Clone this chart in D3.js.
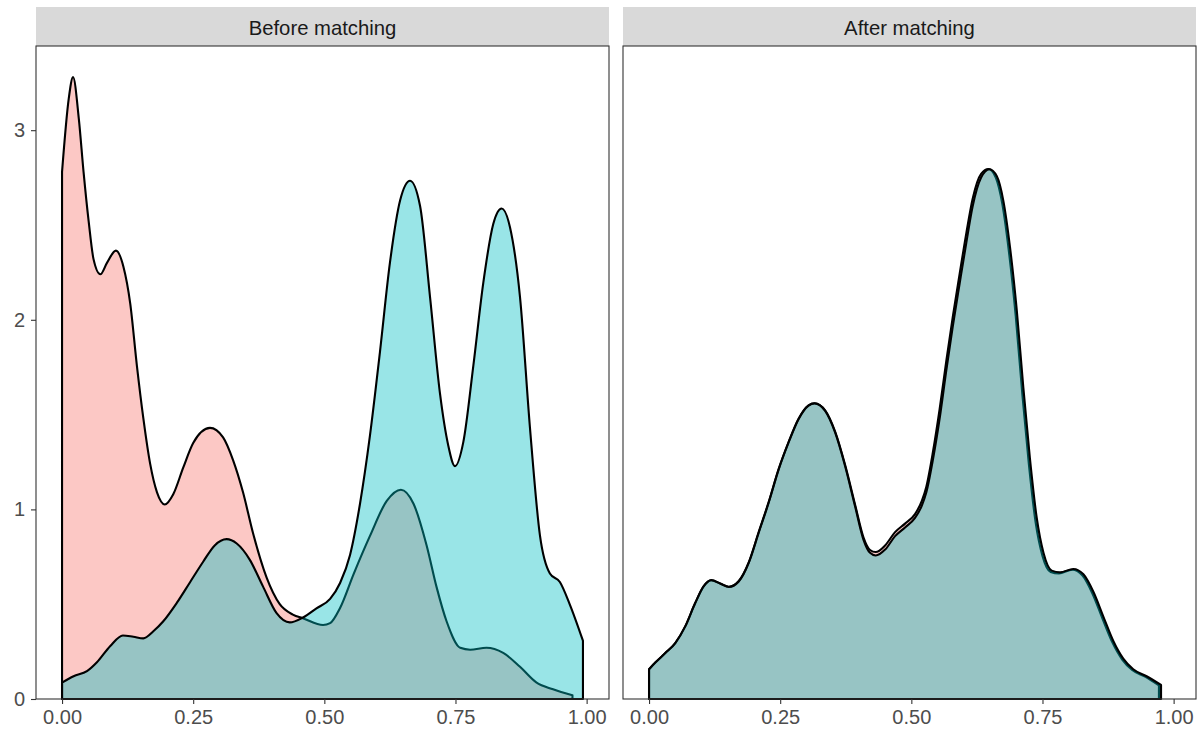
<!DOCTYPE html>
<html>
<head>
<meta charset="utf-8">
<script src="https://cdn.jsdelivr.net/npm/d3@7"></script>
<style>
  html, body { margin: 0; padding: 0; background: #ffffff; }
  svg { display: block; }
  text { font-family: "Liberation Sans", Arial, sans-serif; }
</style>
</head>
<body>
<svg id="chart" width="1198" height="733"></svg>
<script>
// Propensity-score density estimates, [score, density] pairs
const panels = ["Before matching", "After matching"];
const groups = ["control", "treated"];
const groupColors = ["#F8766D", "#00BFC4"];

const beforeControl = [
  [0, 2.78], [0.0127, 3.165], [0.021, 3.28], [0.032, 3.06], [0.041, 2.78], [0.0507, 2.52],
  [0.060, 2.32], [0.073, 2.24], [0.0856, 2.30], [0.1027, 2.365], [0.117, 2.28], [0.130, 2.085],
  [0.1426, 1.76], [0.155, 1.48], [0.168, 1.24], [0.181, 1.09], [0.196, 1.026], [0.212, 1.08],
  [0.231, 1.22], [0.250, 1.35], [0.282, 1.43], [0.307, 1.38], [0.326, 1.26], [0.345, 1.09],
  [0.364, 0.875], [0.39, 0.64], [0.415, 0.50], [0.44, 0.445], [0.46, 0.425], [0.4975, 0.39],
  [0.511, 0.40], [0.530, 0.48], [0.556, 0.66], [0.587, 0.86], [0.619, 1.045], [0.646, 1.104],
  [0.670, 1.03], [0.695, 0.81], [0.714, 0.59], [0.733, 0.41], [0.759, 0.27], [0.778, 0.26],
  [0.809, 0.27], [0.841, 0.243], [0.873, 0.17], [0.904, 0.088], [0.936, 0.051], [0.973, 0.02]
];

const beforeTreated = [
  [0, 0.086], [0.022, 0.12], [0.0475, 0.147], [0.0665, 0.194], [0.092, 0.28], [0.116, 0.335],
  [0.136, 0.328], [0.155, 0.32], [0.174, 0.357], [0.193, 0.41], [0.219, 0.508], [0.244, 0.616],
  [0.269, 0.724], [0.291, 0.81], [0.3137, 0.843], [0.333, 0.82], [0.358, 0.734], [0.383, 0.594],
  [0.409, 0.453], [0.434, 0.404], [0.4595, 0.43], [0.485, 0.478], [0.511, 0.528], [0.530, 0.612],
  [0.549, 0.76], [0.568, 1.03], [0.587, 1.39], [0.606, 1.83], [0.625, 2.30], [0.6445, 2.63],
  [0.6635, 2.733], [0.6825, 2.60], [0.7015, 2.12], [0.7205, 1.61], [0.736, 1.34], [0.749, 1.228],
  [0.765, 1.356], [0.784, 1.757], [0.803, 2.195], [0.822, 2.505], [0.838, 2.587], [0.854, 2.487],
  [0.873, 2.12], [0.892, 1.43], [0.911, 0.863], [0.930, 0.662], [0.949, 0.617], [0.968, 0.498],
  [0.993, 0.307]
];

const afterControl = [
  [0, 0.157], [0.012, 0.192], [0.031, 0.242], [0.050, 0.295], [0.069, 0.383], [0.088, 0.506],
  [0.104, 0.594], [0.1186, 0.627], [0.136, 0.609], [0.152, 0.592], [0.171, 0.622], [0.19, 0.72],
  [0.209, 0.88], [0.228, 1.038], [0.247, 1.212], [0.266, 1.355], [0.285, 1.478], [0.304, 1.549],
  [0.3155, 1.56], [0.3357, 1.522], [0.3547, 1.41], [0.3737, 1.235], [0.3927, 1.026], [0.4087, 0.853],
  [0.4213, 0.786], [0.432, 0.775], [0.45, 0.81], [0.469, 0.88], [0.488, 0.925], [0.507, 0.975],
  [0.52, 1.045], [0.5286, 1.12], [0.541, 1.3], [0.554, 1.53], [0.567, 1.79], [0.579, 2.015],
  [0.592, 2.24], [0.605, 2.46], [0.617, 2.64], [0.633, 2.77], [0.647, 2.795], [0.661, 2.75],
  [0.6735, 2.61], [0.686, 2.36], [0.699, 2.02], [0.7115, 1.61], [0.724, 1.24], [0.737, 0.93],
  [0.750, 0.755], [0.7656, 0.67], [0.7814, 0.662], [0.8068, 0.682], [0.826, 0.652], [0.845, 0.558],
  [0.864, 0.427], [0.883, 0.3], [0.902, 0.208], [0.921, 0.153], [0.9465, 0.117], [0.972, 0.072]
];

const afterTreated = [
  [0, 0.157], [0.012, 0.192], [0.031, 0.242], [0.050, 0.295], [0.069, 0.383], [0.088, 0.506],
  [0.104, 0.594], [0.1186, 0.626], [0.136, 0.608], [0.152, 0.591], [0.171, 0.62], [0.19, 0.718],
  [0.209, 0.877], [0.228, 1.035], [0.247, 1.21], [0.266, 1.353], [0.285, 1.476], [0.304, 1.547],
  [0.3155, 1.559], [0.3357, 1.52], [0.3547, 1.406], [0.3737, 1.229], [0.3927, 1.017], [0.4087, 0.841],
  [0.4213, 0.771], [0.432, 0.757], [0.45, 0.788], [0.469, 0.859], [0.488, 0.905], [0.507, 0.955],
  [0.52, 1.02], [0.5286, 1.09], [0.541, 1.26], [0.554, 1.48], [0.567, 1.74], [0.579, 1.965],
  [0.592, 2.19], [0.605, 2.41], [0.617, 2.6], [0.633, 2.75], [0.649, 2.794], [0.663, 2.757],
  [0.6755, 2.626], [0.688, 2.385], [0.701, 2.05], [0.7135, 1.642], [0.726, 1.27], [0.739, 0.956],
  [0.752, 0.77], [0.7676, 0.677], [0.7834, 0.668], [0.8088, 0.686], [0.828, 0.658], [0.847, 0.566],
  [0.866, 0.435], [0.885, 0.306], [0.904, 0.213], [0.923, 0.157], [0.9485, 0.12], [0.976, 0.074]
];

const xTicks = [0, 0.25, 0.5, 0.75, 1];
const yTicks = [0, 1, 2, 3];

const panelSeries = [
  [beforeControl, beforeTreated],
  [afterControl, afterTreated]
];

// ---- layout ----
const svg = d3.select("#chart");
const panelLefts = [36, 623];
const panelWidth = 573;
const panelTop = 46;
const panelBottom = 699;
const stripTop = 7;
const tickFont = 20;

// shared scales across facets, 5% expansion on x, top-only expansion on y
const allPoints = panelSeries.flat(2);
const xExt = d3.extent(allPoints, d => d[0]);
const xPad = (xExt[1] - xExt[0]) * 0.05;
const yMax = d3.max(allPoints, d => d[1]);

const y = d3.scaleLinear().domain([0, yMax * 1.05]).range([panelBottom, panelTop]);

panels.forEach((title, i) => {
  const left = panelLefts[i];
  const x = d3.scaleLinear()
    .domain([xExt[0] - xPad, xExt[1] + xPad])
    .range([left, left + panelWidth]);

  const g = svg.append("g");

  // strip
  g.append("rect")
    .attr("x", left).attr("y", stripTop)
    .attr("width", panelWidth).attr("height", panelTop - stripTop)
    .attr("fill", "#d9d9d9");
  g.append("text")
    .attr("x", left + panelWidth / 2).attr("y", (stripTop + panelTop) / 2 + 1)
    .attr("text-anchor", "middle").attr("dominant-baseline", "central")
    .attr("font-size", 20.3).attr("fill", "#1a1a1a")
    .text(title);

  // densities: fill and outline per group, control first
  const area = d3.area()
    .x(d => x(d[0]))
    .y0(y(0))
    .y1(d => y(d[1]))
    .curve(d3.curveMonotoneX);

  panelSeries[i].forEach((series, k) => {
    g.append("path")
      .datum(series)
      .attr("d", area)
      .attr("fill", groupColors[k])
      .attr("fill-opacity", 0.4)
      .attr("stroke", "#000")
      .attr("stroke-width", 2.1)
      .attr("stroke-linejoin", "round");
  });

  // panel border
  g.append("rect")
    .attr("x", left).attr("y", panelTop)
    .attr("width", panelWidth).attr("height", panelBottom - panelTop)
    .attr("fill", "none").attr("stroke", "#333").attr("stroke-width", 1.1);

  // x axis
  const xAxis = g.append("g")
    .attr("transform", `translate(0,${panelBottom})`)
    .call(d3.axisBottom(x).tickValues(xTicks).tickFormat(d3.format(".2f"))
      .tickSize(5).tickPadding(6));
  xAxis.select(".domain").remove();
  xAxis.selectAll(".tick line").attr("stroke", "#333").attr("stroke-width", 1.1);
  xAxis.selectAll(".tick text")
    .attr("font-size", tickFont).attr("fill", "#4d4d4d")
    .attr("font-family", "'Liberation Sans', Arial, sans-serif");

  // y axis on the first panel only
  if (i === 0) {
    const yAxis = g.append("g")
      .attr("transform", `translate(${left},0)`)
      .call(d3.axisLeft(y).tickValues(yTicks).tickFormat(d3.format("d"))
        .tickSize(5).tickPadding(6));
    yAxis.select(".domain").remove();
    yAxis.selectAll(".tick line").attr("stroke", "#333").attr("stroke-width", 1.1);
    yAxis.selectAll(".tick text")
      .attr("font-size", tickFont).attr("fill", "#4d4d4d")
      .attr("font-family", "'Liberation Sans', Arial, sans-serif");
  }
});
</script>
</body>
</html>
